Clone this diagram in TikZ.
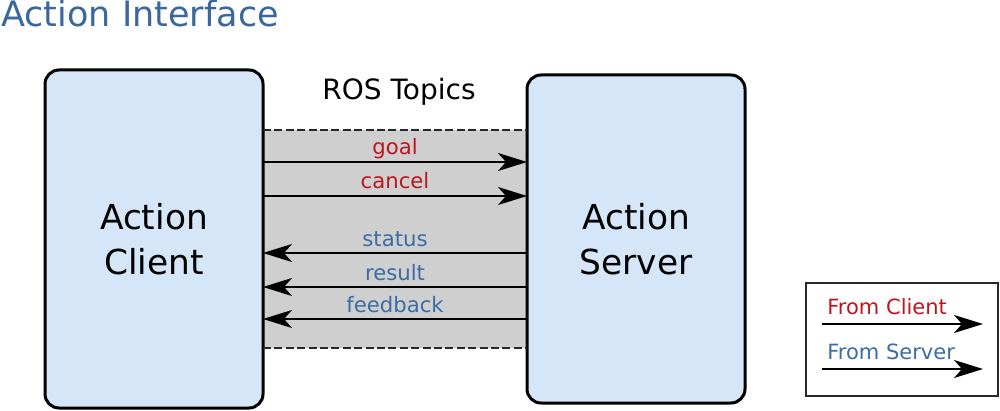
\documentclass[tikz,border=0pt]{standalone}
\usepackage{fontspec}
\setmainfont{DejaVu Sans}
\usetikzlibrary{arrows.meta}
\usetikzlibrary{positioning}
\usetikzlibrary{backgrounds}

\definecolor{boxblue}{RGB}{213,230,249}
\definecolor{bandgray}{RGB}{207,207,207}
\definecolor{clientred}{RGB}{190,22,30}
\definecolor{serverblue}{RGB}{58,108,165}
\definecolor{titleblue}{RGB}{58,104,158}
\definecolor{edgegray}{RGB}{40,40,40}

\tikzset{
  actbox/.style={draw, line width=1.5pt, rounded corners=7pt, fill=boxblue,
    minimum width=109pt, align=center, outer sep=0pt,
    font=\fontsize{17.2}{22.5}\selectfont},
  topic/.style={above, text depth=0pt, inner sep=3.5pt, outer sep=0pt,
    font=\fontsize{10.6}{12}\selectfont},
  leg/.style={inner sep=0pt, anchor=base west, font=\fontsize{10.5}{12}\selectfont},
  arw/.style={line width=1pt},
  bandline/.style={draw=edgegray, line width=0.75pt, dash pattern=on 4pt off 1.7pt}
}

\begin{document}
\begin{tikzpicture}[x=0.5pt,y=-0.5pt,>={Stealth[length=14.5pt,width=9pt,inset=4pt]}]
\useasboundingbox (0,0) rectangle (1000,411);

% title
\path node[inner sep=0pt, anchor=base west, text=titleblue,
  font=\fontsize{17.5}{20}\selectfont] (title) at (1,27) {Action Interface};

% client and server
\path node[actbox, minimum height=169pt] (client) at (154,239) {Action\\Client};
\path node[actbox, minimum height=164pt, right=132pt of client] (server) {Action\\Server};
\path node[inner sep=0pt, anchor=base, font=\fontsize{14}{16}\selectfont] (ros) at (399,100) {ROS Topics};

% topic band
\begin{scope}[on background layer]
\fill[bandgray] (client.east |- 0,130) rectangle (server.west |- 0,348);
\end{scope}
\path[bandline] (client.east |- 0,130) -- (server.west |- 0,130);
\path[bandline] (client.east |- 0,348) -- (server.west |- 0,348);

% from client
\path[->,arw] (client.east |- 0,162) edge node[topic,text=clientred] {goal} (server.west |- 0,162);
\path[->,arw] (client.east |- 0,196) edge node[topic,text=clientred] {cancel} (server.west |- 0,196);
% from server
\path[->,arw] (server.west |- 0,253) edge node[topic,text=serverblue,swap] {status} (client.east |- 0,253);
\path[->,arw] (server.west |- 0,287) edge node[topic,text=serverblue,swap] {result} (client.east |- 0,287);
\path[->,arw] (server.west |- 0,319) edge node[topic,text=serverblue,swap] {feedback} (client.east |- 0,319);

% legend
\path node[draw=edgegray, line width=0.9pt, minimum width=96pt, minimum height=56.5pt,
  outer sep=0pt] (legend) at (902,339.5) {};
\path node[leg, text=clientred] (fromc) at (827,314) {From Client};
\path node[leg, text=serverblue] (froms) at (827,359) {From Server};
\coordinate (lc1) at (822,324);
\coordinate (lc2) at (983,324);
\coordinate (ls1) at (822,369);
\coordinate (ls2) at (983,369);
\path[->,arw] (lc1) edge (lc2);
\path[->,arw] (ls1) edge (ls2);
\end{tikzpicture}
\end{document}
